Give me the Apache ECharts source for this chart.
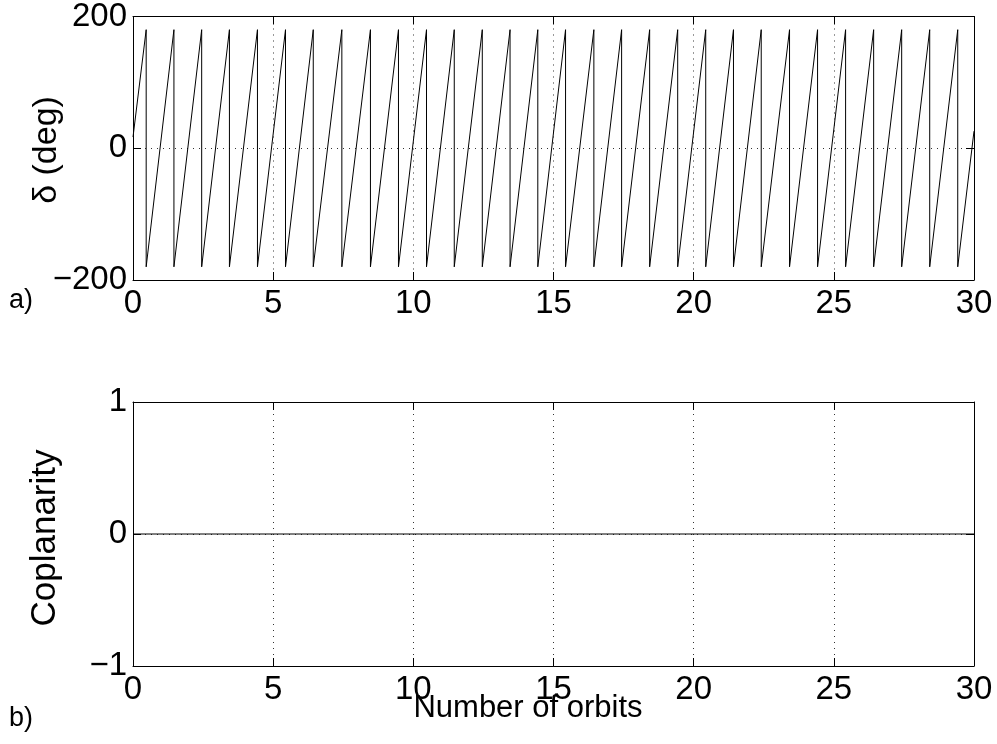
<!DOCTYPE html>
<html>
<head>
<meta charset="utf-8">
<script src="https://cdn.jsdelivr.net/npm/echarts@6/dist/echarts.min.js"></script>
<style>
html,body{margin:0;padding:0;background:#fff;}
#chart{width:997px;height:744px;}
</style>
</head>
<body>
<div id="chart"></div>
<script>
// ---- data ----
// panel a): relative angle delta (deg) vs number of orbits (sawtooth, wraps at +/-180)
const deltaStart = [0, 17];                 // first sample [orbits, deg]
const jumpOrbits = [0.47, 1.46, 2.45, 3.44, 4.44, 5.44, 6.43, 7.45, 8.47, 9.47,
                    10.47, 11.46, 12.46, 13.45, 14.44, 15.43, 16.44, 17.43, 18.43, 19.43,
                    20.43, 21.42, 22.41, 23.42, 24.42, 25.42, 26.42, 27.42, 28.42, 29.42];
const wrapHigh = 180, wrapLow = -180;       // values just before / after each wrap
const deltaEnd = [30, 26];                  // last sample [orbits, deg]
// panel b): coplanarity vs number of orbits
const coplanarityOrbits = [0, 30];
const coplanarityValues = [0, 0];
// axis ticks
const orbitTicks = [0, 5, 10, 15, 20, 25, 30];
const deltaTicks = [-200, 0, 200];
const coplanarityTicks = [-1, 0, 1];

// build series data
const deltaData = [deltaStart];
jumpOrbits.forEach(function (t) { deltaData.push([t, wrapHigh]); deltaData.push([t, wrapLow]); });
deltaData.push(deltaEnd);
const copData = coplanarityOrbits.map(function (t, i) { return [t, coplanarityValues[i]]; });

const FONT = '"Liberation Sans", Arial, Helvetica, sans-serif';
const TICK_FS = 33;
const minus = function (v) { return String(v).replace('-', '\u2212'); };

function xAx(grid, pos, labels) {
  return {
    type: 'value', gridIndex: grid, position: pos,
    min: orbitTicks[0], max: orbitTicks[orbitTicks.length - 1],
    interval: orbitTicks[1] - orbitTicks[0],
    axisLine: { show: true, onZero: false, lineStyle: { color: '#000', width: 1 } },
    axisTick: { show: true, inside: true, length: 8, lineStyle: { color: '#000', width: 1 } },
    axisLabel: { show: labels, color: '#000', fontSize: TICK_FS, fontFamily: FONT, margin: 7, formatter: minus },
    splitLine: { show: labels, lineStyle: { color: '#333', width: 1, type: [1, 5] } }
  };
}
function yAx(grid, pos, ticks, labels) {
  return {
    type: 'value', gridIndex: grid, position: pos,
    min: ticks[0], max: ticks[ticks.length - 1], interval: ticks[1] - ticks[0],
    axisLine: { show: true, onZero: false, lineStyle: { color: '#000', width: 1 } },
    axisTick: { show: true, inside: true, length: 8, lineStyle: { color: '#000', width: 1 } },
    axisLabel: { show: labels, color: '#000', fontSize: TICK_FS, fontFamily: FONT, margin: 6, formatter: minus },
    splitLine: { show: labels, lineStyle: { color: '#333', width: 1, type: [1, 5] } }
  };
}

const chart = echarts.init(document.getElementById('chart'), null, { renderer: 'canvas' });
chart.setOption({
  animation: false,
  backgroundColor: '#fff',
  grid: [
    { left: 133, right: 23, top: 15, height: 265 },
    { left: 133, right: 23, top: 402, height: 264 }
  ],
  xAxis: [xAx(0, 'bottom', true), xAx(0, 'top', false), xAx(1, 'bottom', true), xAx(1, 'top', false)],
  yAxis: [yAx(0, 'left', deltaTicks, true), yAx(0, 'right', deltaTicks, false),
          yAx(1, 'left', coplanarityTicks, true), yAx(1, 'right', coplanarityTicks, false)],
  series: [
    { type: 'line', xAxisIndex: 0, yAxisIndex: 0, data: deltaData, showSymbol: false,
      lineStyle: { color: '#000', width: 1 }, z: 5 },
    { type: 'line', xAxisIndex: 2, yAxisIndex: 2, data: copData, showSymbol: false,
      lineStyle: { color: '#000', width: 1 }, z: 5 }
  ],
  graphic: [
    { type: 'text', x: 47, y: 150, rotation: Math.PI / 2,
      style: { text: '\u03b4 (deg)', fontSize: 34, fontFamily: FONT, fill: '#000', align: 'center', verticalAlign: 'middle' } },
    { type: 'text', x: 45, y: 538, rotation: Math.PI / 2,
      style: { text: 'Coplanarity', fontSize: 35, fontFamily: FONT, fill: '#000', align: 'center', verticalAlign: 'middle' } },
    { type: 'text', x: 528, y: 708,
      style: { text: 'Number of orbits', fontSize: 31, fontFamily: FONT, fill: '#000', align: 'center', verticalAlign: 'middle' } },
    { type: 'text', x: 9, y: 301,
      style: { text: 'a)', fontSize: 27, fontFamily: FONT, fill: '#000', align: 'left', verticalAlign: 'middle' } },
    { type: 'text', x: 9, y: 719,
      style: { text: 'b)', fontSize: 27, fontFamily: FONT, fill: '#000', align: 'left', verticalAlign: 'middle' } }
  ]
});
</script>
</body>
</html>
